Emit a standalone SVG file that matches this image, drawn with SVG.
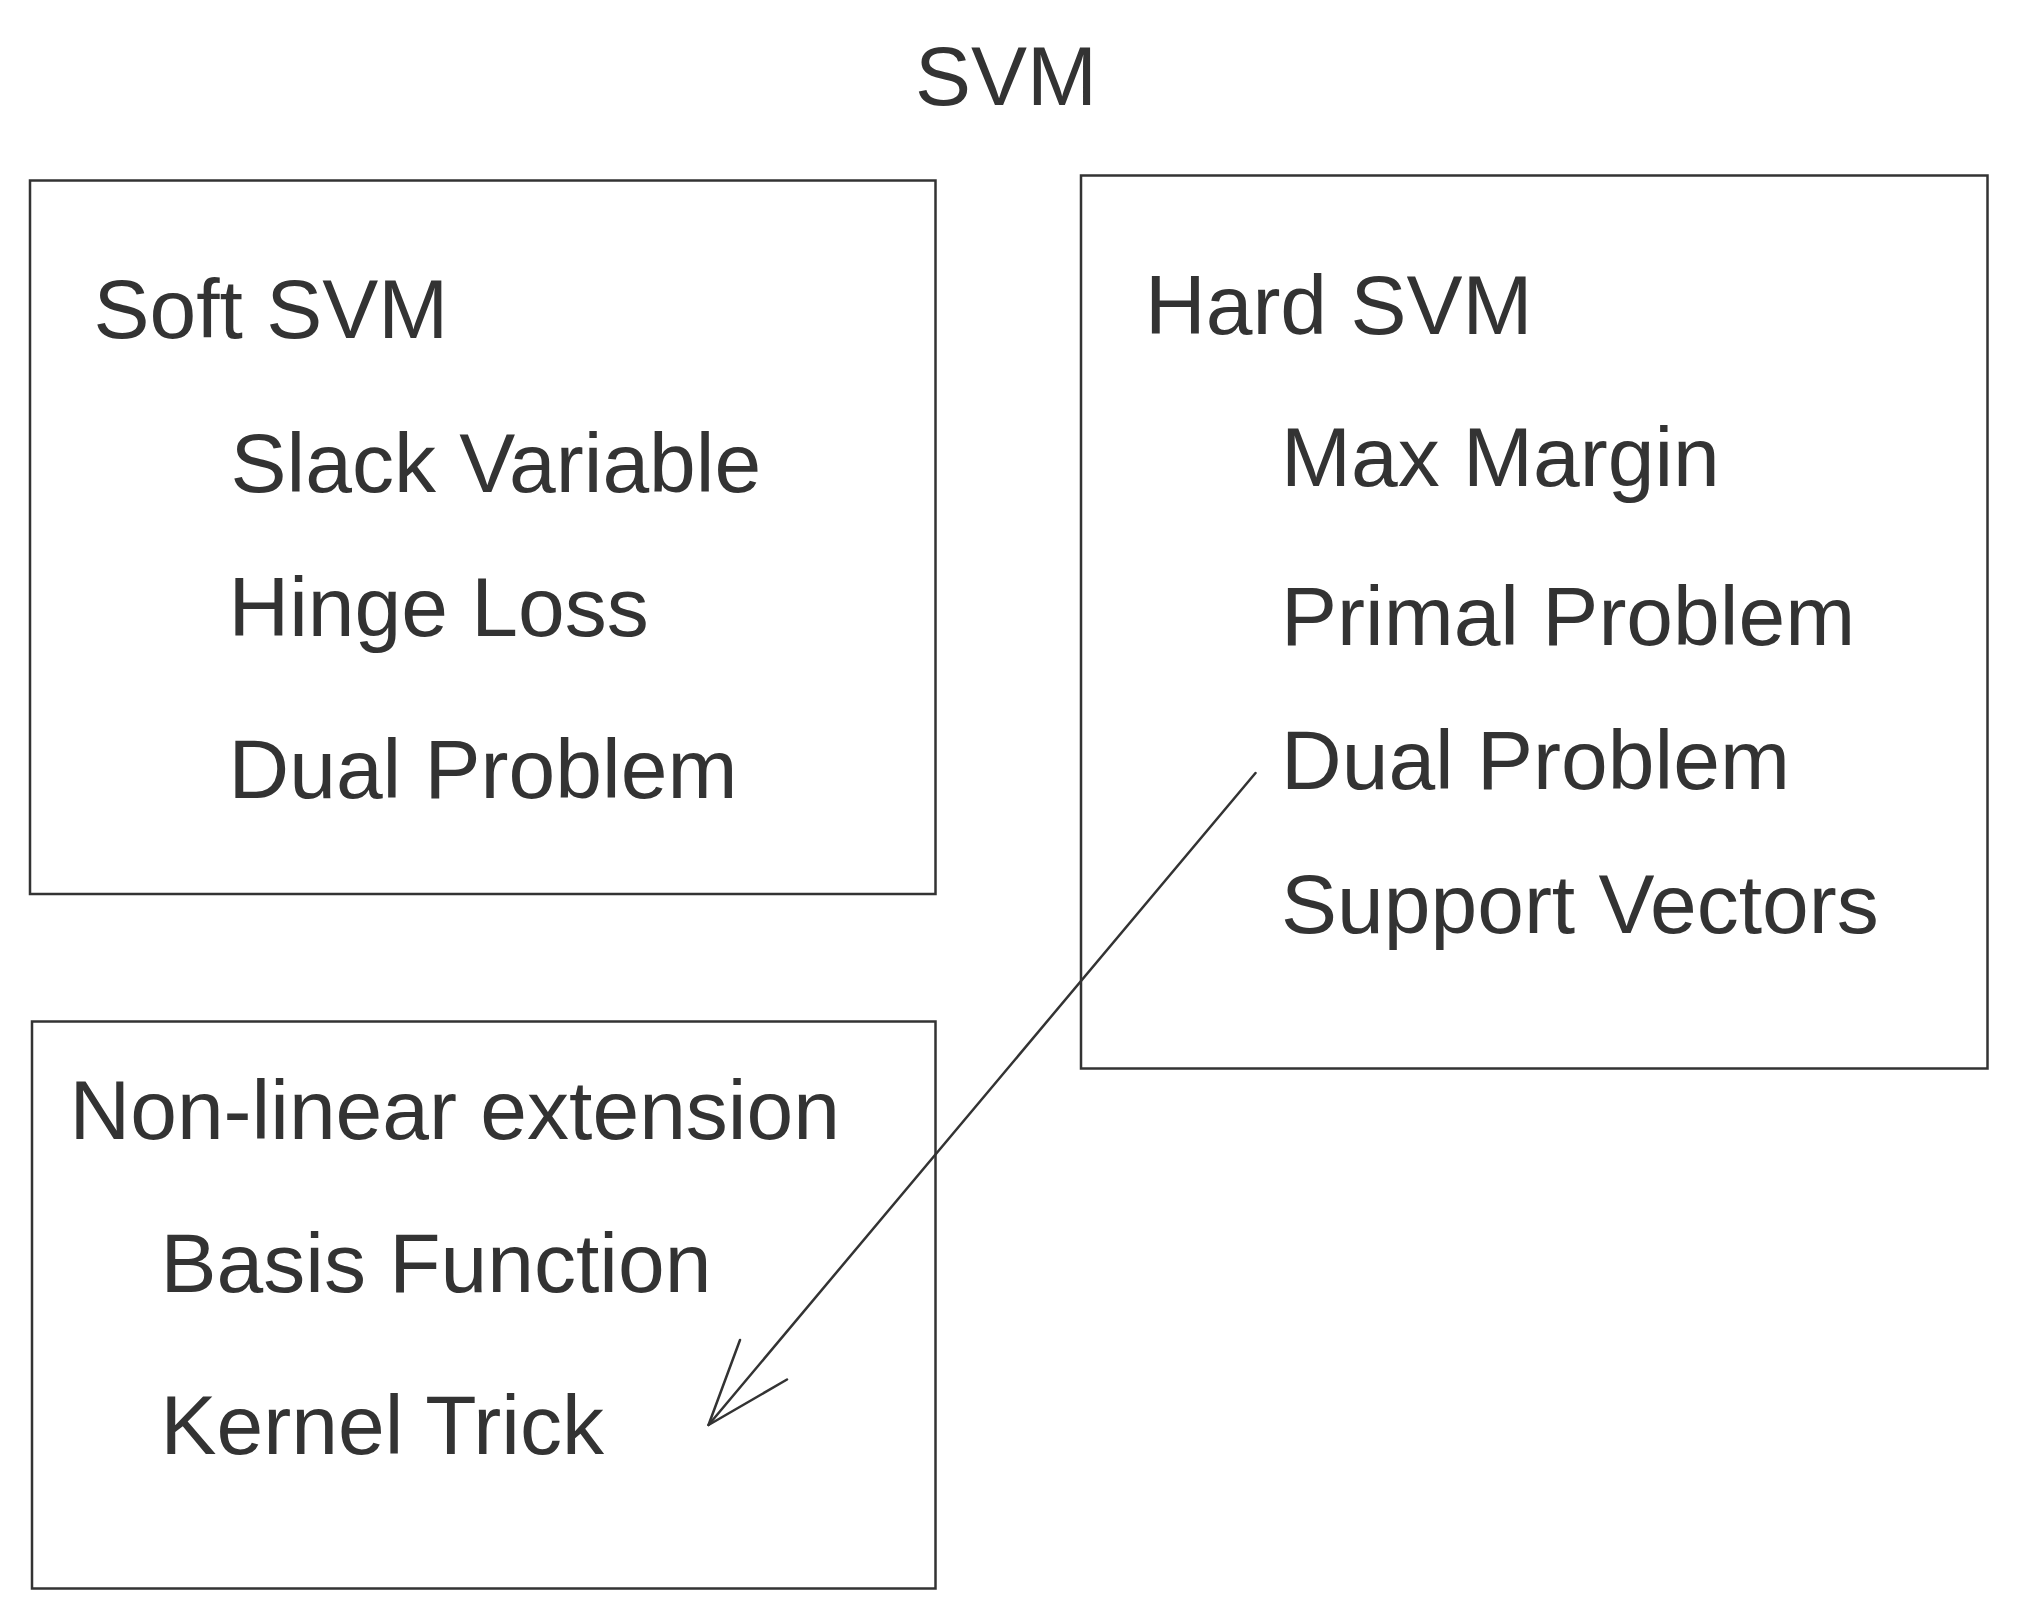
<svg xmlns="http://www.w3.org/2000/svg" width="2017" height="1618" viewBox="0 0 2017 1618">
<style>
text{font-family:"Liberation Sans",Arial,sans-serif;font-size:84px;fill:#333}
.box{fill:none;stroke:#333;stroke-width:2.5}
.conn{fill:none;stroke:#333;stroke-width:2.5;stroke-linecap:round;stroke-linejoin:round}
</style>
<rect width="2017" height="1618" fill="#fff"/>
<g id="title"><text x="915" y="105">SVM</text></g>
<g id="soft-svm">
<rect class="box" x="30" y="180.5" width="905.5" height="713.5"/>
<text x="93.5" y="338">Soft SVM</text>
<text x="230.5" y="491.5">Slack Variable</text>
<text x="228.5" y="636">Hinge Loss</text>
<text x="228.5" y="797.5">Dual Problem</text>
</g>
<g id="hard-svm">
<rect class="box" x="1081" y="175.5" width="906.5" height="893"/>
<text x="1145" y="333.5">Hard SVM</text>
<text x="1281" y="486">Max Margin</text>
<text x="1281" y="645">Primal Problem</text>
<text x="1281" y="788.5">Dual Problem</text>
<text x="1281" y="932.5">Support Vectors</text>
</g>
<g id="non-linear">
<rect class="box" x="32" y="1021.5" width="903.5" height="567"/>
<text x="69.5" y="1139">Non-linear extension</text>
<text x="160.5" y="1292">Basis Function</text>
<text x="160.5" y="1453.5">Kernel Trick</text>
</g>
<g id="connectors">
<path class="conn" d="M1255.5 773 L708.5 1425"/>
<path class="conn" d="M740 1340 L708.5 1425 L787 1379.5"/>
</g>
</svg>
